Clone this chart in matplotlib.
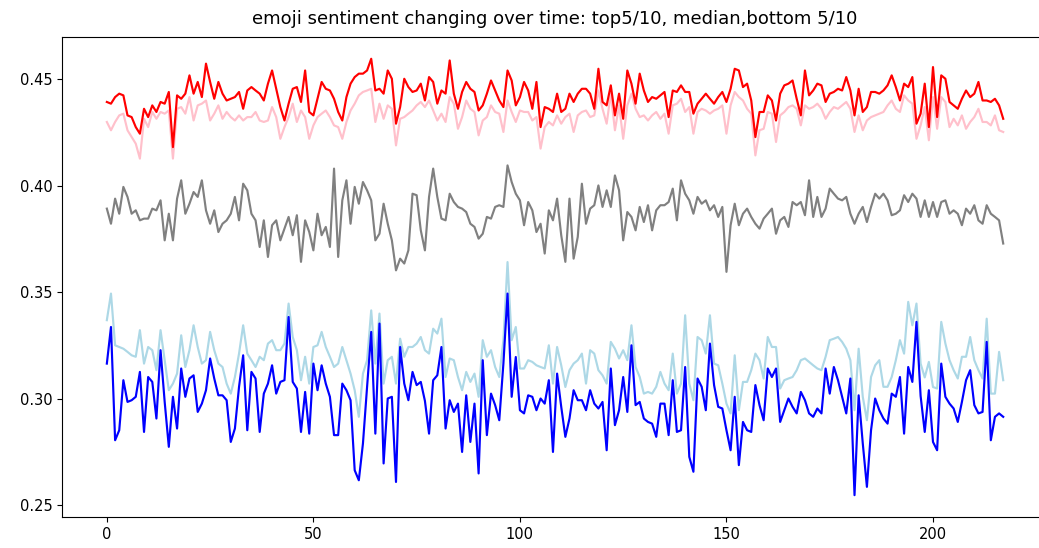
import numpy as np
import matplotlib
matplotlib.use("Agg")
import matplotlib.pyplot as plt

# values, one per time step (218 steps)
top5 = [
    0.4394, 0.4386, 0.4417, 0.4433, 0.4425, 0.4331, 0.4323, 0.4276, 0.4245, 0.4362,
    0.4323, 0.4378, 0.4347, 0.4394, 0.4386, 0.4441, 0.4182, 0.4425, 0.4409, 0.4433,
    0.4519, 0.4433, 0.4488, 0.4417, 0.4574, 0.4488, 0.4409, 0.4488, 0.4433, 0.4401,
    0.4409, 0.4417, 0.4441, 0.4362, 0.4448, 0.4464, 0.4448, 0.4433, 0.4401, 0.4480,
    0.4542, 0.4456, 0.4370, 0.4307, 0.4386, 0.4456, 0.4464, 0.4394, 0.4542, 0.4347,
    0.4331, 0.4409, 0.4488, 0.4456, 0.4448, 0.4409, 0.4347, 0.4307, 0.4417, 0.4480,
    0.4511, 0.4527, 0.4527, 0.4542, 0.4597, 0.4448, 0.4456, 0.4433, 0.4542, 0.4503,
    0.4292, 0.4370, 0.4503, 0.4464, 0.4441, 0.4448, 0.4480, 0.4401, 0.4511, 0.4488,
    0.4386, 0.4448, 0.4433, 0.4589, 0.4433, 0.4362, 0.4441, 0.4488, 0.4456, 0.4441,
    0.4354, 0.4378, 0.4433, 0.4495, 0.4448, 0.4401, 0.4370, 0.4542, 0.4495, 0.4378,
    0.4417, 0.4488, 0.4448, 0.4362, 0.4488, 0.4276, 0.4370, 0.4362, 0.4347, 0.4433,
    0.4347, 0.4362, 0.4433, 0.4394, 0.4433, 0.4456, 0.4456, 0.4433, 0.4362, 0.4550,
    0.4394, 0.4378, 0.4472, 0.4331, 0.4433, 0.4315, 0.4542, 0.4480, 0.4386, 0.4527,
    0.4448, 0.4394, 0.4417, 0.4409, 0.4425, 0.4441, 0.4323, 0.4448, 0.4441, 0.4472,
    0.4441, 0.4441, 0.4339, 0.4386, 0.4409, 0.4433, 0.4409, 0.4386, 0.4417, 0.4441,
    0.4394, 0.4456, 0.4550, 0.4542, 0.4464, 0.4480, 0.4401, 0.4229, 0.4347, 0.4347,
    0.4425, 0.4401, 0.4307, 0.4433, 0.4472, 0.4480, 0.4495, 0.4409, 0.4331, 0.4542,
    0.4425, 0.4448, 0.4480, 0.4472, 0.4394, 0.4433, 0.4441, 0.4456, 0.4448, 0.4511,
    0.4448, 0.4331, 0.4456, 0.4347, 0.4370, 0.4441, 0.4441, 0.4433, 0.4448, 0.4472,
    0.4519, 0.4464, 0.4401, 0.4480, 0.4464, 0.4511, 0.4292, 0.4339, 0.4480, 0.4276,
    0.4558, 0.4323, 0.4519, 0.4503, 0.4394, 0.4378, 0.4362, 0.4409, 0.4448, 0.4417,
    0.4433, 0.4488, 0.4401, 0.4401, 0.4394, 0.4409, 0.4378, 0.4315,
]

top10 = [
    0.4300, 0.4261, 0.4300, 0.4331, 0.4339, 0.4261, 0.4229, 0.4198, 0.4128, 0.4315,
    0.4276, 0.4347, 0.4315, 0.4347, 0.4339, 0.4354, 0.4128, 0.4362, 0.4370, 0.4339,
    0.4417, 0.4307, 0.4378, 0.4386, 0.4401, 0.4307, 0.4339, 0.4378, 0.4315, 0.4347,
    0.4323, 0.4307, 0.4331, 0.4307, 0.4323, 0.4323, 0.4347, 0.4307, 0.4300, 0.4307,
    0.4370, 0.4323, 0.4221, 0.4276, 0.4323, 0.4386, 0.4300, 0.4354, 0.4323, 0.4221,
    0.4284, 0.4323, 0.4339, 0.4354, 0.4323, 0.4284, 0.4276, 0.4221, 0.4300, 0.4354,
    0.4386, 0.4425, 0.4441, 0.4448, 0.4456, 0.4300, 0.4386, 0.4315, 0.4378, 0.4362,
    0.4190, 0.4315, 0.4323, 0.4339, 0.4354, 0.4378, 0.4394, 0.4370, 0.4401, 0.4354,
    0.4307, 0.4339, 0.4300, 0.4417, 0.4386, 0.4268, 0.4323, 0.4401, 0.4362, 0.4347,
    0.4237, 0.4307, 0.4323, 0.4378, 0.4347, 0.4339, 0.4253, 0.4401, 0.4347, 0.4300,
    0.4354, 0.4347, 0.4347, 0.4307, 0.4323, 0.4175, 0.4276, 0.4300, 0.4284, 0.4331,
    0.4292, 0.4323, 0.4339, 0.4253, 0.4331, 0.4347, 0.4354, 0.4323, 0.4331, 0.4448,
    0.4362, 0.4292, 0.4433, 0.4261, 0.4378, 0.4221, 0.4378, 0.4433, 0.4362, 0.4323,
    0.4331, 0.4307, 0.4331, 0.4347, 0.4315, 0.4339, 0.4245, 0.4378, 0.4386, 0.4409,
    0.4347, 0.4370, 0.4245, 0.4347, 0.4362, 0.4354, 0.4339, 0.4354, 0.4362, 0.4378,
    0.4245, 0.4378, 0.4441, 0.4417, 0.4401, 0.4362, 0.4339, 0.4143, 0.4261, 0.4268,
    0.4347, 0.4339, 0.4206, 0.4331, 0.4347, 0.4370, 0.4378, 0.4362, 0.4284, 0.4378,
    0.4362, 0.4370, 0.4386, 0.4362, 0.4315, 0.4347, 0.4370, 0.4362, 0.4378, 0.4394,
    0.4362, 0.4253, 0.4331, 0.4261, 0.4307, 0.4323, 0.4331, 0.4339, 0.4347, 0.4378,
    0.4401, 0.4362, 0.4347, 0.4425, 0.4401, 0.4386, 0.4221, 0.4284, 0.4370, 0.4214,
    0.4417, 0.4268, 0.4417, 0.4394, 0.4276, 0.4315, 0.4284, 0.4331, 0.4268, 0.4300,
    0.4323, 0.4362, 0.4300, 0.4300, 0.4284, 0.4331, 0.4261, 0.4253,
]

median = [
    0.3893, 0.3822, 0.3940, 0.3869, 0.3995, 0.3948, 0.3869, 0.3885, 0.3838, 0.3846,
    0.3846, 0.3893, 0.3885, 0.3932, 0.3744, 0.3869, 0.3744, 0.3940, 0.4026, 0.3869,
    0.3916, 0.3971, 0.3948, 0.4026, 0.3885, 0.3822, 0.3885, 0.3783, 0.3822, 0.3838,
    0.3869, 0.3948, 0.3838, 0.4010, 0.3979, 0.3869, 0.3838, 0.3713, 0.3838, 0.3666,
    0.3815, 0.3838, 0.3744, 0.3799, 0.3854, 0.3768, 0.3862, 0.3643, 0.3838, 0.3783,
    0.3697, 0.3869, 0.3768, 0.3807, 0.3713, 0.4081, 0.3666, 0.3932, 0.4026, 0.3822,
    0.3995, 0.3916, 0.4018, 0.3979, 0.3932, 0.3744, 0.3775, 0.3916, 0.3822, 0.3744,
    0.3603, 0.3658, 0.3635, 0.3697, 0.3963, 0.3956, 0.3791, 0.3697, 0.3948, 0.4081,
    0.3948, 0.3846, 0.3838, 0.3963, 0.3924, 0.3901, 0.3893, 0.3877, 0.3822, 0.3807,
    0.3752, 0.3775, 0.3854, 0.3846, 0.3901, 0.3909, 0.3901, 0.4096, 0.4018, 0.3963,
    0.3932, 0.3815, 0.3924, 0.3885, 0.3783, 0.3822, 0.3682, 0.3885, 0.3838, 0.3940,
    0.3768, 0.3643, 0.3940, 0.3658, 0.3760, 0.4010, 0.3822, 0.3893, 0.3909, 0.4002,
    0.3901, 0.3979, 0.3901, 0.4049, 0.3979, 0.3744, 0.3877, 0.3854, 0.3791, 0.3901,
    0.3830, 0.3909, 0.3791, 0.3885, 0.3909, 0.3909, 0.3924, 0.3987, 0.3838, 0.4026,
    0.3963, 0.3932, 0.3869, 0.3948, 0.3916, 0.3932, 0.3885, 0.3909, 0.3854, 0.3901,
    0.3596, 0.3815, 0.3916, 0.3815, 0.3869, 0.3893, 0.3854, 0.3822, 0.3799, 0.3846,
    0.3869, 0.3893, 0.3775, 0.3838, 0.3854, 0.3807, 0.3924, 0.3909, 0.3924, 0.3862,
    0.4026, 0.3854, 0.3948, 0.3854, 0.3893, 0.3987, 0.3963, 0.3940, 0.3932, 0.3948,
    0.3869, 0.3822, 0.3869, 0.3901, 0.3830, 0.3901, 0.3963, 0.3940, 0.3963, 0.3932,
    0.3862, 0.3869, 0.3885, 0.3956, 0.3924, 0.3963, 0.3940, 0.3854, 0.3932, 0.3854,
    0.3924, 0.3854, 0.3924, 0.3932, 0.3869, 0.3885, 0.3869, 0.3815, 0.3893, 0.3869,
    0.3909, 0.3838, 0.3822, 0.3909, 0.3869, 0.3854, 0.3838, 0.3729,
]

bottom10 = [
    0.3369, 0.3494, 0.3251, 0.3243, 0.3235, 0.3220, 0.3204, 0.3197, 0.3322, 0.3165,
    0.3243, 0.3228, 0.3134, 0.3322, 0.3181, 0.3040, 0.3071, 0.3118, 0.3298, 0.3149,
    0.3228, 0.3345, 0.3243, 0.3165, 0.3181, 0.3314, 0.3228, 0.3165, 0.3149, 0.3071,
    0.3024, 0.3102, 0.3212, 0.3345, 0.3212, 0.3181, 0.3149, 0.3197, 0.3181, 0.3259,
    0.3275, 0.3228, 0.3228, 0.3259, 0.3447, 0.3290, 0.3228, 0.3087, 0.3197, 0.3071,
    0.3243, 0.3251, 0.3314, 0.3243, 0.3197, 0.3149, 0.3165, 0.3243, 0.3181, 0.3118,
    0.3040, 0.2915, 0.3118, 0.3181, 0.3415, 0.3165, 0.3400, 0.3071, 0.3181, 0.3197,
    0.3071, 0.3282, 0.3197, 0.3243, 0.3243, 0.3259, 0.3290, 0.3228, 0.3212, 0.3329,
    0.3306, 0.3376, 0.3102, 0.3189, 0.3181, 0.3102, 0.3040, 0.3126, 0.3079, 0.3118,
    0.3009, 0.3275, 0.3197, 0.3228, 0.3149, 0.3102, 0.3275, 0.3642, 0.3275, 0.3337,
    0.3142, 0.3142, 0.3181, 0.3173, 0.3157, 0.3149, 0.3142, 0.3251, 0.3071, 0.3243,
    0.3157, 0.3055, 0.3134, 0.3165, 0.3181, 0.3212, 0.3071, 0.3228, 0.3212, 0.3134,
    0.3110, 0.3071, 0.3267, 0.3235, 0.3189, 0.3228, 0.3181, 0.3345, 0.3149, 0.3102,
    0.3024, 0.3032, 0.3024, 0.3056, 0.3126, 0.3071, 0.3040, 0.3212, 0.3024, 0.3071,
    0.3392, 0.3071, 0.2993, 0.3290, 0.3275, 0.3212, 0.3392, 0.3165, 0.3157, 0.3071,
    0.2977, 0.2931, 0.3204, 0.2946, 0.3079, 0.3079, 0.3134, 0.3212, 0.3181, 0.3095,
    0.3290, 0.3243, 0.3243, 0.3048, 0.3087, 0.3095, 0.3102, 0.3134, 0.3181, 0.3189,
    0.3173, 0.3157, 0.3142, 0.3134, 0.3197, 0.3275, 0.3282, 0.3290, 0.3267, 0.3235,
    0.3181, 0.2946, 0.3235, 0.3009, 0.2899, 0.3102, 0.3157, 0.3181, 0.3056, 0.3056,
    0.3102, 0.3181, 0.3275, 0.3212, 0.3455, 0.3345, 0.3447, 0.3165, 0.3100, 0.3173,
    0.3055, 0.3048, 0.3361, 0.3259, 0.3181, 0.3134, 0.3095, 0.3197, 0.3197, 0.3290,
    0.3181, 0.3134, 0.3095, 0.3376, 0.3024, 0.3024, 0.3220, 0.3087,
]

bottom5 = [
    0.3165, 0.3337, 0.2805, 0.2852, 0.3087, 0.2985, 0.2993, 0.3009, 0.3126, 0.2844,
    0.3102, 0.3079, 0.2907, 0.3228, 0.2985, 0.2774, 0.3009, 0.2860, 0.3142, 0.3009,
    0.3095, 0.3110, 0.2938, 0.2977, 0.3040, 0.3189, 0.3095, 0.3016, 0.3016, 0.2993,
    0.2797, 0.2860, 0.3056, 0.3204, 0.2852, 0.3126, 0.3095, 0.2844, 0.3024, 0.3071,
    0.3157, 0.3024, 0.3079, 0.3087, 0.3384, 0.3079, 0.3048, 0.2844, 0.3032, 0.2836,
    0.3165, 0.3040, 0.3157, 0.3071, 0.3009, 0.2829, 0.2829, 0.3071, 0.3040, 0.2993,
    0.2664, 0.2617, 0.2790, 0.3056, 0.3314, 0.2836, 0.3353, 0.2696, 0.3001, 0.3009,
    0.2609, 0.3243, 0.3071, 0.2993, 0.3126, 0.3064, 0.3079, 0.2990, 0.2836, 0.3087,
    0.3110, 0.3243, 0.2860, 0.2993, 0.2938, 0.2977, 0.2750, 0.3016, 0.2797, 0.2977,
    0.2649, 0.3181, 0.2829, 0.3024, 0.2970, 0.2899, 0.3165, 0.3494, 0.3009, 0.3196,
    0.2946, 0.2931, 0.3016, 0.3009, 0.2946, 0.3001, 0.2977, 0.3087, 0.2750, 0.3118,
    0.2962, 0.2821, 0.2907, 0.3040, 0.2993, 0.2993, 0.2946, 0.3040, 0.2977, 0.2954,
    0.2985, 0.2758, 0.3142, 0.2876, 0.2946, 0.3102, 0.2938, 0.3251, 0.2970, 0.2985,
    0.2907, 0.2891, 0.2883, 0.2821, 0.2977, 0.2977, 0.2829, 0.3087, 0.2844, 0.2852,
    0.3149, 0.2727, 0.2657, 0.3095, 0.3056, 0.2946, 0.3259, 0.3064, 0.2962, 0.2954,
    0.2852, 0.2758, 0.3009, 0.2688, 0.2891, 0.2852, 0.2844, 0.3064, 0.2970, 0.2899,
    0.3142, 0.3102, 0.3142, 0.2891, 0.2946, 0.3001, 0.2962, 0.2931, 0.3032, 0.2993,
    0.2931, 0.2915, 0.2954, 0.2931, 0.3142, 0.3024, 0.3149, 0.3087, 0.3009, 0.2931,
    0.3095, 0.2547, 0.3016, 0.2790, 0.2586, 0.2852, 0.3001, 0.2946, 0.2907, 0.2883,
    0.3024, 0.3009, 0.3102, 0.2836, 0.3149, 0.3079, 0.3361, 0.3013, 0.2844, 0.3040,
    0.2797, 0.2758, 0.3165, 0.3009, 0.2977, 0.2954, 0.2891, 0.2985, 0.3087, 0.3134,
    0.2970, 0.2931, 0.2938, 0.3267, 0.2805, 0.2915, 0.2931, 0.2915,
]

t = np.arange(len(top5))

fig = plt.figure(figsize=(10.39, 5.48), dpi=100)
# the reference is cut off on the right, so the axes run past the figure edge
ax = fig.add_axes([0.0597, 0.0566, 0.949, 0.876])

lw = 1.55
ax.plot(t, top10, color="pink", lw=lw)
ax.plot(t, top5, color="red", lw=lw)
ax.plot(t, median, color="grey", lw=lw)
ax.plot(t, bottom10, color="lightblue", lw=lw)
ax.plot(t, bottom5, color="blue", lw=lw)

ax.set_title("emoji sentiment changing over time: top5/10, median,bottom 5/10",
             fontsize=13, pad=9)
ax.tick_params(labelsize=10.5)

fig.savefig("out.png", dpi=100)
